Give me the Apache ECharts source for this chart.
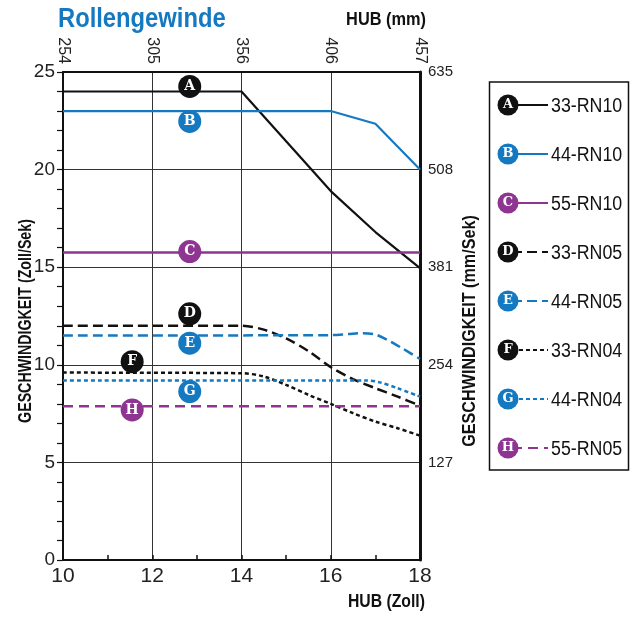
<!DOCTYPE html>
<html>
<head>
<meta charset="utf-8">
<script src="https://cdn.jsdelivr.net/npm/echarts@6/dist/echarts.min.js"></script>
<style>
html,body{margin:0;padding:0;background:#fff;}
#chart{width:634px;height:618px;}
</style>
</head>
<body>
<div id="chart"></div>
<script>
// ---- data ----
var seriesNames = ['33-RN10','44-RN10','55-RN10','33-RN05','44-RN05','33-RN04','44-RN04','55-RN05'];
var seriesLetters = ['A','B','C','D','E','F','G','H'];
var sA = [[10,24],[14,24],[15,21.45],[16,18.9],[17,16.8],[18,14.95]];
var sB = [[10,23],[16,23],[17,22.35],[18,20]];
var sC = [[10,15.75],[18,15.75]];
var sD = [[10,12],[14,12],[14.5,11.8],[15,11.35],[15.5,10.7],[16,9.88],[16.5,9.27],[17,8.8],[17.5,8.37],[18,7.9]];
var sE = [[10,11.5],[16,11.52],[16.4,11.58],[16.7,11.62],[17,11.55],[17.25,11.3],[17.6,10.85],[18,10.3]];
var sF = [[10,9.6],[14,9.57],[14.5,9.4],[15,8.97],[15.5,8.46],[16,8.0],[16.5,7.52],[17,7.09],[17.5,6.75],[18,6.37]];
var sG = [[10,9.2],[16.8,9.2],[17.1,9.1],[17.5,8.8],[18,8.37]];
var sH = [[10,7.88],[18,7.88]];
var labelPos = [[12.84,24.26],[12.84,22.47],[12.84,15.8],[12.84,12.61],[12.84,11.11],[11.55,10.16],[12.84,8.63],[11.55,7.69]];
var topTicks = {10:'254',12:'305',14:'356',16:'406',18:'457'};
var rightTicks = {5:'127',10:'254',15:'381',20:'508',25:'635'};

var BLACK = '#111111', BLUE = '#1479c0', PURPLE = '#8d3591';
var colors = [BLACK,BLUE,PURPLE,BLACK,BLUE,BLACK,BLUE,PURPLE];
var dashes = ['solid','solid','solid',[10,5],[10,5],[4,3],[4,3],[10,6]];
var widths = [2.2,2.2,2.5,2.5,2.5,2.5,2.5,2.5];
var dataSets = [sA,sB,sC,sD,sE,sF,sG,sH];
var smooths = [false,false,false,0.3,0.3,0.3,0.3,false];
var FONT = '"Liberation Sans",Arial,sans-serif';

var chart = echarts.init(document.getElementById('chart'), null, {renderer:'canvas'});

var series = [];
dataSets.forEach(function(d,i){
  series.push({
    name: seriesNames[i], type:'line', data:d, showSymbol:false, smooth:smooths[i],
    xAxisIndex:0, yAxisIndex:0, z:3,
    lineStyle:{color:colors[i], width:widths[i], type:dashes[i]}, silent:true
  });
});
series.push({
  type:'scatter', xAxisIndex:0, yAxisIndex:0, z:10, symbolSize:23, silent:true,
  data: labelPos.map(function(p,i){
    return {value:p, itemStyle:{color:colors[i], opacity:1},
      label:{show:true, position:'inside', formatter:seriesLetters[i], color:'#fff',
        fontFamily:'"DejaVu Serif",serif', fontWeight:'bold', fontSize:14}};
  })
});

// legend graphics
var g = [];
g.push({type:'rect', shape:{x:489.5,y:82,width:139,height:388}, style:{fill:'#fff',stroke:'#111',lineWidth:1.5}, z:1});
seriesNames.forEach(function(n,i){
  var cy = 105 + i*49;
  var dash = dashes[i]==='solid'? null : dashes[i];
  g.push({type:'line', shape:{x1:512,y1:cy,x2:548,y2:cy}, style:{stroke:colors[i],lineWidth:2,lineDash:dash}, z:2});
  g.push({type:'circle', shape:{cx:508,cy:cy,r:10.5}, style:{fill:colors[i]}, z:3});
  g.push({type:'text', style:{text:seriesLetters[i], x:508, y:cy, fill:'#fff', font:'bold 13px "DejaVu Serif",serif', textAlign:'center', textVerticalAlign:'middle'}, z:4});
  g.push({type:'text', x:551, y:cy+1, scaleX:0.89, style:{text:n, x:0, y:0, fill:'#111', font:'20px '+FONT, textAlign:'left', textVerticalAlign:'middle'}, z:4});
});
g.push({type:'text', x:58, y:20, scaleX:0.88, style:{text:'Rollengewinde', x:0, y:0, fill:BLUE, font:'bold 27px '+FONT, textAlign:'left', textVerticalAlign:'middle'}});
g.push({type:'text', x:426, y:20, scaleX:0.86, style:{text:'HUB (mm)', x:0, y:0, fill:'#111', font:'bold 19px '+FONT, textAlign:'right', textVerticalAlign:'middle'}});
g.push({type:'text', x:425, y:602, scaleX:0.83, style:{text:'HUB (Zoll)', x:0, y:0, fill:'#111', font:'bold 19px '+FONT, textAlign:'right', textVerticalAlign:'middle'}});
g.push({type:'text', rotation:Math.PI/2, x:26, y:321, scaleX:0.79, style:{text:'GESCHWINDIGKEIT (Zoll/Sek)', x:0, y:0, fill:'#111', font:'bold 18px '+FONT, textAlign:'center', textVerticalAlign:'middle'}});
g.push({type:'text', rotation:Math.PI/2, x:470, y:331, scaleX:0.85, style:{text:'GESCHWINDIGKEIT (mm/Sek)', x:0, y:0, fill:'#111', font:'bold 19px '+FONT, textAlign:'center', textVerticalAlign:'middle'}});

var option = {
  animation:false,
  backgroundColor:'#fff',
  grid:{left:63, top:72, width:357, height:488, containLabel:false},
  xAxis:[{
    type:'value', position:'bottom', min:10, max:18, interval:2,
    axisLine:{show:true, onZero:false, lineStyle:{color:BLACK, width:2}},
    axisTick:{show:true, inside:true, length:5, lineStyle:{color:BLACK,width:1.5}},
    minorTick:{show:true, splitNumber:2, length:5, lineStyle:{color:BLACK,width:1.5}},
    splitLine:{show:true, lineStyle:{color:'#333', width:1}},
    axisLabel:{color:'#222', fontSize:21, fontFamily:FONT, margin:6}
  },{
    type:'value', position:'top', min:10, max:18, interval:2,
    axisLine:{show:true, onZero:false, lineStyle:{color:BLACK, width:2}},
    axisTick:{show:false}, splitLine:{show:false},
    axisLabel:{color:'#222', fontSize:16, fontFamily:FONT, rotate:90, margin:8,
      formatter:function(v){return topTicks[v]||'';}}
  }],
  yAxis:[{
    type:'value', position:'left', min:0, max:25, interval:5,
    axisLine:{show:true, onZero:false, lineStyle:{color:BLACK, width:2}},
    axisTick:{show:true, length:6, lineStyle:{color:BLACK,width:1.2}},
    minorTick:{show:true, splitNumber:5, length:6, lineStyle:{color:BLACK,width:1.2}},
    splitLine:{show:true, lineStyle:{color:'#333', width:1}},
    axisLabel:{color:'#222', fontSize:19, fontFamily:FONT, margin:8}
  },{
    type:'value', position:'right', min:0, max:25, interval:5,
    axisLine:{show:true, onZero:false, lineStyle:{color:BLACK, width:3}},
    axisTick:{show:false}, splitLine:{show:false},
    axisLabel:{color:'#222', fontSize:15, fontFamily:FONT, margin:8,
      formatter:function(v){return rightTicks[v]||'';}}
  }],
  series:series,
  graphic:g
};
chart.setOption(option);
</script>
</body>
</html>
